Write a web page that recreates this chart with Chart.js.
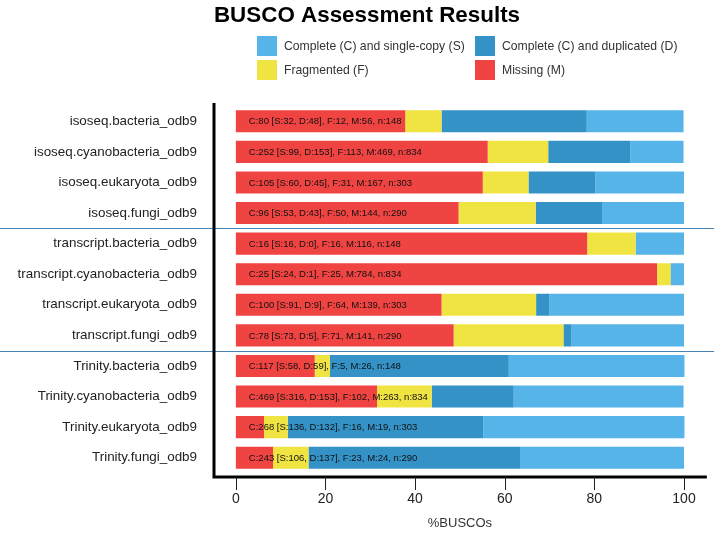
<!DOCTYPE html>
<html>
<head>
<meta charset="utf-8">
<script src="https://cdn.jsdelivr.net/npm/chart.js@4"></script>
<style>
  html, body { margin: 0; padding: 0; background: #fff; }
  #wrap { width: 714px; height: 534px; }
</style>
</head>
<body>
<div id="wrap"><canvas id="busco-chart"></canvas></div>
<script>
  // data (percent of BUSCOs per run)
  const categories = [
    'isoseq.bacteria_odb9', 'isoseq.cyanobacteria_odb9', 'isoseq.eukaryota_odb9', 'isoseq.fungi_odb9',
    'transcript.bacteria_odb9', 'transcript.cyanobacteria_odb9', 'transcript.eukaryota_odb9', 'transcript.fungi_odb9',
    'Trinity.bacteria_odb9', 'Trinity.cyanobacteria_odb9', 'Trinity.eukaryota_odb9', 'Trinity.fungi_odb9'
  ];
  const missing    = [37.8, 56.2, 55.1, 49.7, 78.4, 94.0, 45.9, 48.6, 17.6, 31.5, 6.3, 8.3];
  const fragmented = [8.1, 13.5, 10.2, 17.2, 10.8, 3.0, 21.1, 24.5, 3.4, 12.2, 5.3, 7.9];
  const duplicated = [32.4, 18.3, 14.9, 14.8, 0, 0.1, 3.0, 1.7, 39.9, 18.3, 43.6, 47.2];
  const singleCopy = [21.6, 11.9, 19.8, 18.3, 10.8, 2.9, 30.0, 25.2, 39.2, 37.9, 44.9, 36.6];
  const barLabels = [
    'C:80 [S:32, D:48], F:12, M:56, n:148',
    'C:252 [S:99, D:153], F:113, M:469, n:834',
    'C:105 [S:60, D:45], F:31, M:167, n:303',
    'C:96 [S:53, D:43], F:50, M:144, n:290',
    'C:16 [S:16, D:0], F:16, M:116, n:148',
    'C:25 [S:24, D:1], F:25, M:784, n:834',
    'C:100 [S:91, D:9], F:64, M:139, n:303',
    'C:78 [S:73, D:5], F:71, M:141, n:290',
    'C:117 [S:58, D:59], F:5, M:26, n:148',
    'C:469 [S:316, D:153], F:102, M:263, n:834',
    'C:268 [S:136, D:132], F:16, M:19, n:303',
    'C:243 [S:106, D:137], F:23, M:24, n:290'
  ];
  const tickValues = [0, 20, 40, 60, 80, 100];
  const groupEnds = [3, 7]; // separator after these rows

  const labelS = 'Complete (C) and single-copy (S)';
  const labelD = 'Complete (C) and duplicated (D)';
  const labelF = 'Fragmented (F)';
  const labelM = 'Missing (M)';
  const legendOrder = [labelS, labelD, labelF, labelM];

  const FONT = '"Liberation Sans", Arial, Helvetica, sans-serif';

  // title, legend, axis frame, separators, text inside bars
  const buscoDecor = {
    id: 'buscoDecor',
    afterDatasetsDraw(chart) {
      const ctx = chart.ctx;
      const xs = chart.scales.x, ys = chart.scales.y;
      ctx.save();
      ctx.fillStyle = '#111';
      ctx.font = '9.5px ' + FONT;
      ctx.textAlign = 'left';
      ctx.textBaseline = 'middle';
      barLabels.forEach(function(t, i){
        ctx.fillText(t, xs.getPixelForValue(0) + 13, ys.getPixelForValue(i) + 0.5);
      });
      ctx.restore();
    },
    afterDraw(chart) {
      const ctx = chart.ctx;
      const area = chart.chartArea;
      const xs = chart.scales.x, ys = chart.scales.y;
      ctx.save();

      // title
      ctx.fillStyle = '#000';
      ctx.font = 'bold 22.4px ' + FONT;
      ctx.textAlign = 'center';
      ctx.textBaseline = 'middle';
      ctx.fillText('BUSCO Assessment Results', 367, 16);

      // legend, two columns
      const colX = [257, 475], rowY = [36, 60];
      ctx.font = '12.2px ' + FONT;
      ctx.textAlign = 'left';
      legendOrder.forEach(function(lbl, k){
        const ds = chart.data.datasets.find(function(d){ return d.label === lbl; });
        const x = colX[k % 2], y = rowY[Math.floor(k / 2)];
        ctx.fillStyle = ds.backgroundColor;
        ctx.fillRect(x, y, 20, 20);
        ctx.fillStyle = '#333';
        ctx.fillText(lbl, x + 27, y + 10.5);
      });

      // separators between groups
      ctx.strokeStyle = '#4682b4';
      ctx.lineWidth = 1;
      groupEnds.forEach(function(i){
        const y = Math.round((ys.getPixelForValue(i) + ys.getPixelForValue(i + 1)) / 2) + 0.5;
        ctx.beginPath();
        ctx.moveTo(0, y);
        ctx.lineTo(chart.width, y);
        ctx.stroke();
      });

      // L-shaped axis frame
      const bottom = area.bottom + 4;
      ctx.strokeStyle = '#000';
      ctx.lineWidth = 3;
      ctx.beginPath();
      ctx.moveTo(area.left + 1, area.top - 3);
      ctx.lineTo(area.left + 1, bottom);
      ctx.lineTo(area.right, bottom);
      ctx.stroke();

      // tick marks
      ctx.lineWidth = 1;
      ctx.strokeStyle = '#222';
      tickValues.forEach(function(v){
        const x = Math.round(xs.getPixelForValue(v)) + 0.5;
        ctx.beginPath();
        ctx.moveTo(x, bottom);
        ctx.lineTo(x, bottom + 13);
        ctx.stroke();
      });
      ctx.restore();
    }
  };

  const ctxB = document.getElementById('busco-chart');
  const buscoChart = new Chart(ctxB, {
    type: 'bar',
    data: {
      labels: categories,
      datasets: [{
        label: labelM,
        data: missing,
        backgroundColor: '#F04442'
      },{
        label: labelF,
        data: fragmented,
        backgroundColor: '#F0E442'
      },{
        label: labelD,
        data: duplicated,
        backgroundColor: '#3492C7'
      },{
        label: labelS,
        data: singleCopy,
        backgroundColor: '#56B4E9'
      }]
    },
    plugins: [buscoDecor],
    options: {
      indexAxis: 'y',
      responsive: true,
      maintainAspectRatio: false,
      animation: false,
      devicePixelRatio: 1,
      layout: { padding: { top: 106, right: 7, left: 0, bottom: 0 } },
      datasets: { bar: { categoryPercentage: 1, barPercentage: 0.72, borderWidth: 0 } },
      plugins: {
        legend: { display: false },
        title: { display: false },
        tooltip: { enabled: false }
      },
      scales: {
        x: {
          type: 'linear',
          stacked: true,
          min: -5.1,
          max: 105.1,
          grid: { display: false, drawTicks: false },
          border: { display: false },
          afterBuildTicks: function(s){ s.ticks = tickValues.map(function(v){ return { value: v }; }); },
          afterFit: function(s){ s.height = 61; },
          ticks: { font: { size: 14, family: FONT }, color: '#222', padding: 18, maxRotation: 0 },
          title: { display: true, text: '%BUSCOs', font: { size: 13, family: FONT }, color: '#333', padding: { top: 0, bottom: 3 } }
        },
        y: {
          stacked: true,
          grid: { display: false, drawTicks: false },
          border: { display: false },
          afterFit: function(s){ s.width = 213; },
          ticks: { font: { size: 13.4, family: FONT }, color: '#222', padding: 16 }
        }
      }
    }
  });
</script>
</body>
</html>
